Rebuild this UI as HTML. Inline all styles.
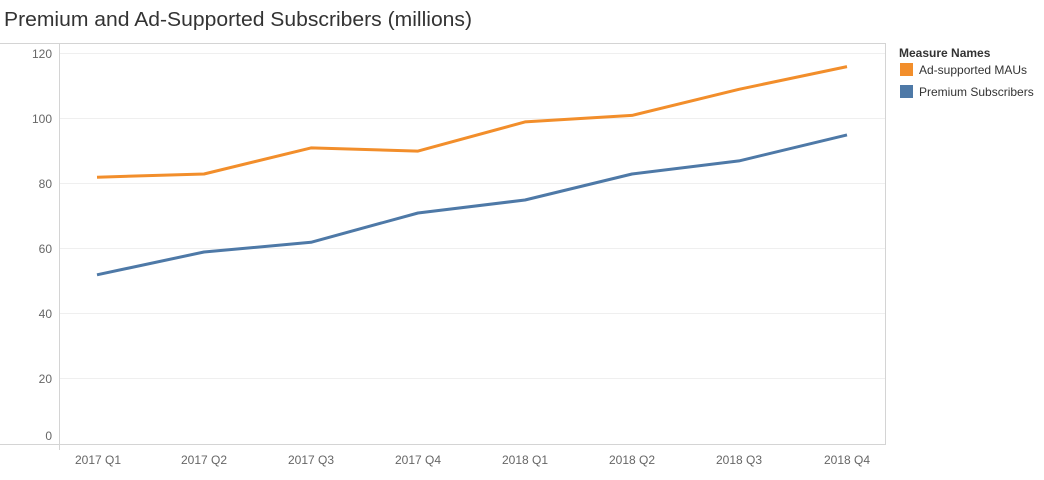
<!DOCTYPE html><html><head><style>body{margin:0;background:#fff;font-family:"Liberation Sans",sans-serif}</style></head><body>
<svg width="1044" height="475" xmlns="http://www.w3.org/2000/svg" font-family="Liberation Sans, sans-serif">
<text x="4" y="26" font-size="20" fill="#333" textLength="468" lengthAdjust="spacingAndGlyphs">Premium and Ad-Supported Subscribers (millions)</text>
<line x1="0" y1="43.5" x2="886" y2="43.5" stroke="#d4d4d4"/>
<line x1="0" y1="444.5" x2="886" y2="444.5" stroke="#d4d4d4"/>
<line x1="59.5" y1="43" x2="59.5" y2="450" stroke="#d4d4d4"/>
<line x1="885.5" y1="43" x2="885.5" y2="445" stroke="#d4d4d4"/>
<g stroke="#efefef">
<line x1="60" y1="53.5" x2="885" y2="53.5"/><line x1="60" y1="118.5" x2="885" y2="118.5"/><line x1="60" y1="183.5" x2="885" y2="183.5"/><line x1="60" y1="248.5" x2="885" y2="248.5"/><line x1="60" y1="313.5" x2="885" y2="313.5"/><line x1="60" y1="378.5" x2="885" y2="378.5"/>
</g>
<g font-size="12" fill="#666" text-anchor="end">
<text x="52" y="58">120</text><text x="52" y="123">100</text><text x="52" y="188">80</text><text x="52" y="253">60</text><text x="52" y="318">40</text><text x="52" y="383">20</text><text x="52" y="440">0</text>
</g>
<g font-size="12" fill="#666" text-anchor="middle">
<text x="98" y="464">2017 Q1</text><text x="204" y="464">2017 Q2</text><text x="311" y="464">2017 Q3</text><text x="418" y="464">2017 Q4</text><text x="525" y="464">2018 Q1</text><text x="632" y="464">2018 Q2</text><text x="739" y="464">2018 Q3</text><text x="847" y="464">2018 Q4</text>
</g>
<polyline fill="none" stroke="#f28e2b" stroke-width="3" stroke-linejoin="round" points="97,177.2 204,174 311,147.9 418,151.1 525,121.9 632,115.4 739,89.3 847,66.6"/>
<polyline fill="none" stroke="#4e79a7" stroke-width="3" stroke-linejoin="round" points="97,274.8 204,252 311,242.3 418,213 525,200 632,174 739,160.9 847,134.9"/>
<text x="899" y="57" font-size="12" font-weight="bold" fill="#333">Measure Names</text>
<rect x="900" y="63" width="13" height="13" fill="#f28e2b"/><text x="919" y="74" font-size="12" fill="#333">Ad-supported MAUs</text>
<rect x="900" y="85" width="13" height="13" fill="#4e79a7"/><text x="919" y="96" font-size="12" fill="#333">Premium Subscribers</text>
</svg></body></html>
